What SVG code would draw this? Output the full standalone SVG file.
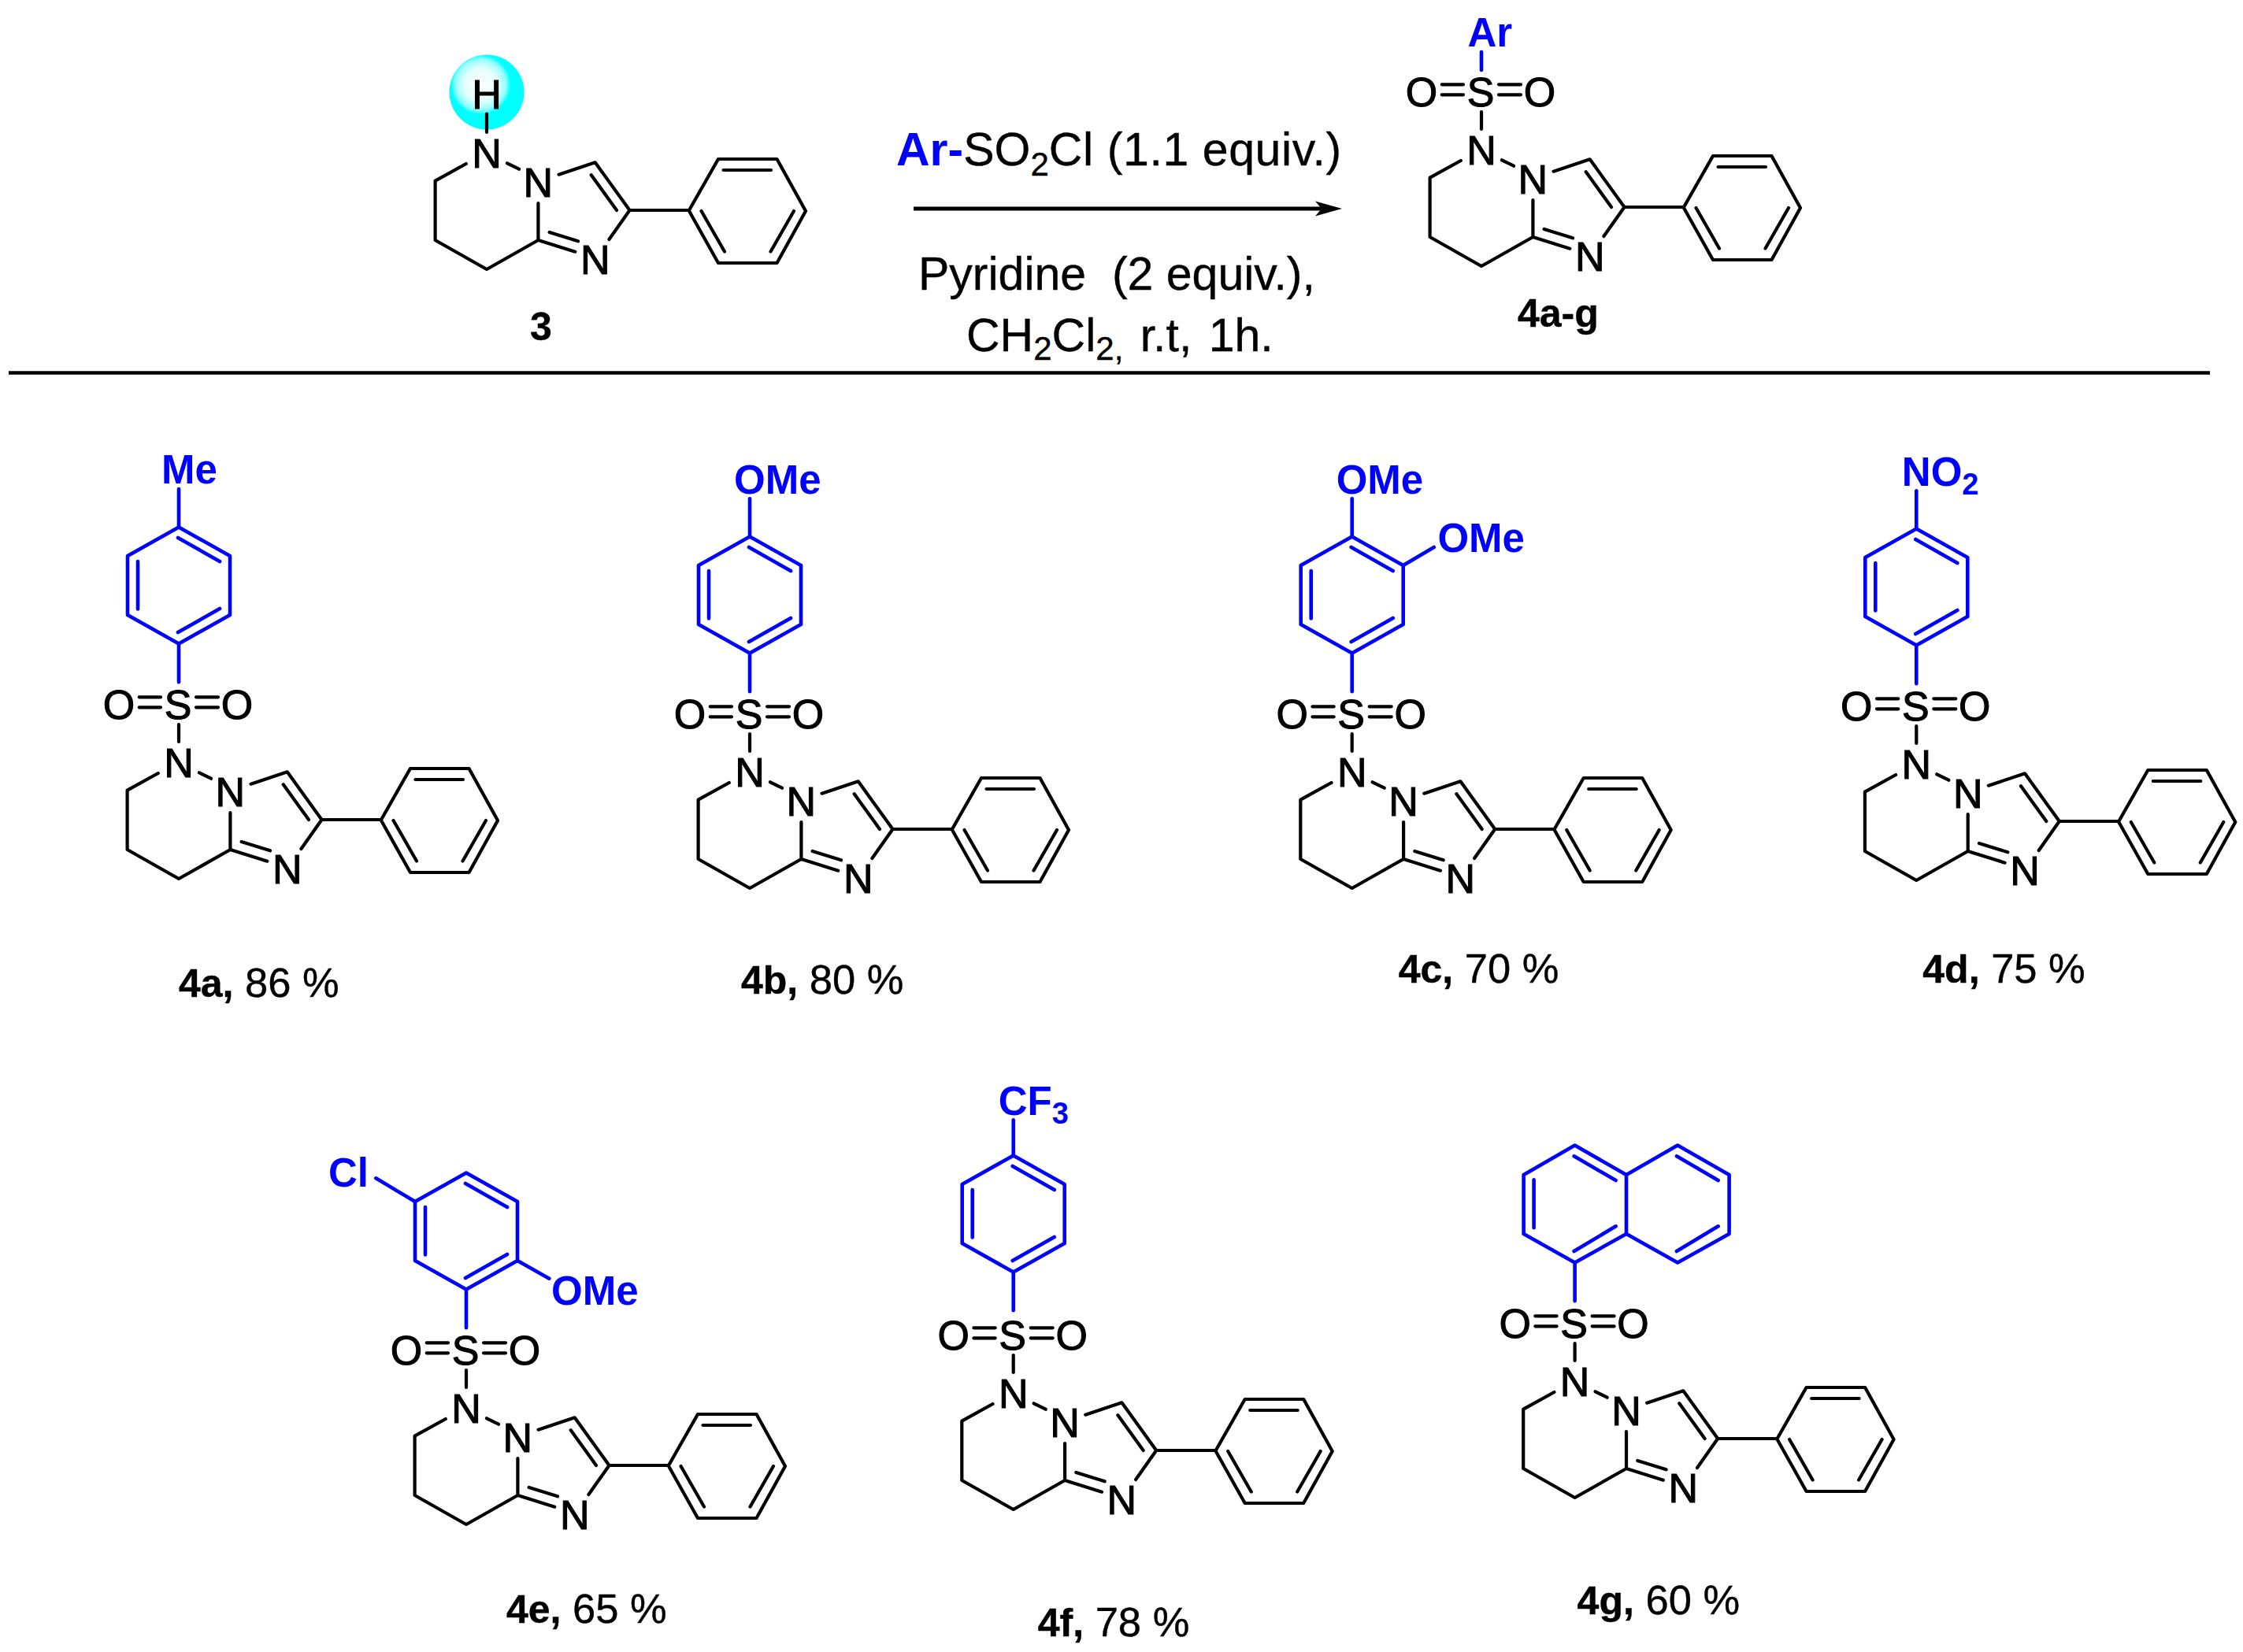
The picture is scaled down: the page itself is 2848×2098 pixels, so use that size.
<svg xmlns="http://www.w3.org/2000/svg" width="2848" height="2098" viewBox="0 0 2848 2098">
<style>
text{font-family:"Liberation Sans",Arial,sans-serif;white-space:pre}
.a{font-size:52px;text-anchor:middle;fill:#000;stroke:#000;stroke-width:1.1}
.b{font-size:51px;font-weight:700;fill:#00f}
.s{font-size:38px}
.l{font-size:52.5px;fill:#000;stroke:#000;stroke-width:.4}
.lb{font-weight:700;font-size:50px}
.r{font-size:59px;fill:#000;stroke:#000;stroke-width:.4}
.k{fill:none;stroke:#000;stroke-width:4.2;stroke-linecap:round;stroke-linejoin:round}
.u{fill:none;stroke:#00f;stroke-width:4.6;stroke-linecap:round;stroke-linejoin:round}
</style>
<defs>
<radialGradient id="ball" cx="0.42" cy="0.4" r="0.5">
<stop offset="0" stop-color="#fff"/><stop offset="0.45" stop-color="#e4ffff"/><stop offset="0.68" stop-color="#8fffff"/><stop offset="0.8" stop-color="#0ff"/><stop offset="1" stop-color="#0ff"/>
</radialGradient>
<marker id="head" markerUnits="userSpaceOnUse" markerWidth="36" markerHeight="24" refX="8" refY="12" orient="auto"><path d="M0,2.5 L34,12 L0,21.5 L8,12 Z" fill="#000"/></marker>
<path id="core" class="k" d="M-26.2,14 L-65.4,35.7 V111 L0,148 L65.4,111 V64 M26,13.3 L41,20.7 M91.5,27.7 L137.7,12.3 L181.5,73 L155.4,110 M132.7,28.3 L165,73 M65.4,111 L112.3,125.7 M79.6,101 L116,112.3 M181.5,73 H257 L294,8 H368.5 L405,74 L368.5,140 H294 L257,74 M300.5,22 H361 M272.5,74 L302,125.5 M390,74 L360.5,125.5"/>
<path id="so2" class="k" d="M0,-48 V-26 M-50.3,-82.7 H-23 M-50.3,-69.7 H-23 M22,-82.7 H50 M22,-69.7 H50"/>
<path id="ring" class="u" d="M0,-101.7 V-150.5 L65,-187 V-262 L0,-298.5 L-65,-262 V-187 L0,-150.5 M-1,-285 L52,-255 M-52,-255 V-194.5 M-1,-165 L52,-195"/>
</defs>
<g id="connectors">
<path d="M1160,265 H1678" fill="none" stroke="#000" stroke-width="5" marker-end="url(#head)"/>
<path d="M11,473.5 H2806" fill="none" stroke="#000" stroke-width="4.5"/>
</g>
<g id="reagents">
<text class="r" x="1138" y="210"><tspan font-weight="700" fill="#00f" stroke="none">Ar-</tspan>SO<tspan font-size="42" dy="12.7">2</tspan><tspan dy="-12.7" letter-spacing="0.6">Cl (1.1 equiv.)</tspan></text>
<text class="r" x="1166" y="367.7">Pyridine  (2 equiv.),</text>
<text class="r" x="1227" y="445.7">CH<tspan font-size="42" dy="11">2</tspan><tspan dy="-11">Cl</tspan><tspan font-size="42" dy="11">2,</tspan><tspan dy="-11" word-spacing="5"> r.t, 1h.</tspan></text>
</g>
<g id="compound-3" transform="translate(618,194)">
<circle cx="0" cy="-77" r="47.5" fill="url(#ball)"/>
<use href="#core"/>
<path class="k" d="M0,-49.3 V-26"/>
<text class="a" x="0" y="-56.5">H</text>
<text class="a" x="0" y="18.5">N</text>
<text class="a" x="65.4" y="55.5">N</text>
<text class="a" x="137.7" y="154">N</text>
<text class="l lb" x="55" y="238">3</text>
</g>
<g id="compound-4a-g" transform="translate(1881,190)">
<use href="#core"/><use href="#so2"/>
<path class="u" d="M0,-124 V-101"/>
<text class="b" x="-17.5" y="-131">Ar</text>
<text class="a" x="-76" y="-55.5">O</text><text class="a" x="-1" y="-55.5">S</text><text class="a" x="74" y="-55.5">O</text>
<text class="a" x="0" y="18.5">N</text><text class="a" x="65.4" y="55.5">N</text><text class="a" x="137.7" y="154">N</text>
<text class="l lb" x="46" y="225">4a-g</text>
</g>
<g id="compound-4a" transform="translate(227,968)">
<use href="#core"/><use href="#so2"/><use href="#ring"/>
<path class="u" d="M0,-298.5 V-347"/>
<text class="b" x="-22" y="-354">Me</text>
<text class="a" x="-76" y="-55.5">O</text><text class="a" x="-1" y="-55.5">S</text><text class="a" x="74" y="-55.5">O</text>
<text class="a" x="0" y="18.5">N</text><text class="a" x="65.4" y="55.5">N</text><text class="a" x="137.7" y="154">N</text>
<text class="l" x="0" y="298"><tspan class="lb">4a,</tspan> 86 %</text>
</g>
<g id="compound-4b" transform="translate(952,980)">
<use href="#core"/><use href="#so2"/><use href="#ring"/>
<path class="u" d="M0,-298.5 V-346.7"/>
<text class="b" x="-20" y="-353">OMe</text>
<text class="a" x="-76" y="-55.5">O</text><text class="a" x="-1" y="-55.5">S</text><text class="a" x="74" y="-55.5">O</text>
<text class="a" x="0" y="18.5">N</text><text class="a" x="65.4" y="55.5">N</text><text class="a" x="137.7" y="154">N</text>
<text class="l" x="-11" y="282"><tspan class="lb">4b,</tspan> 80 %</text>
</g>
<g id="compound-4c" transform="translate(1716.7,980)">
<use href="#core"/><use href="#so2"/><use href="#ring"/>
<path class="u" d="M0,-298.5 V-346.7 M65,-262 L104,-285"/>
<text class="b" x="-20" y="-353">OMe</text>
<text class="b" x="108.7" y="-279">OMe</text>
<text class="a" x="-76" y="-55.5">O</text><text class="a" x="-1" y="-55.5">S</text><text class="a" x="74" y="-55.5">O</text>
<text class="a" x="0" y="18.5">N</text><text class="a" x="65.4" y="55.5">N</text><text class="a" x="137.7" y="154">N</text>
<text class="l" x="59" y="268"><tspan class="lb">4c,</tspan> 70 %</text>
</g>
<g id="compound-4d" transform="translate(2433.3,970)">
<use href="#core"/><use href="#so2"/><use href="#ring"/>
<path class="u" d="M0,-298.5 V-346.7"/>
<text class="b" x="-18.5" y="-353">NO<tspan class="s" dy="11">2</tspan></text>
<text class="a" x="-76" y="-55.5">O</text><text class="a" x="-1" y="-55.5">S</text><text class="a" x="74" y="-55.5">O</text>
<text class="a" x="0" y="18.5">N</text><text class="a" x="65.4" y="55.5">N</text><text class="a" x="137.7" y="154">N</text>
<text class="l" x="8" y="278"><tspan class="lb">4d,</tspan> 75 %</text>
</g>
<g id="compound-4e" transform="translate(592,1788)">
<use href="#core"/><use href="#so2"/><use href="#ring"/>
<path class="u" d="M-65,-262 L-114.7,-291.7 M65,-187 L105.3,-164.3"/>
<text class="b" x="-175" y="-281">Cl</text>
<text class="b" x="108" y="-131">OMe</text>
<text class="a" x="-76" y="-55.5">O</text><text class="a" x="-1" y="-55.5">S</text><text class="a" x="74" y="-55.5">O</text>
<text class="a" x="0" y="18.5">N</text><text class="a" x="65.4" y="55.5">N</text><text class="a" x="137.7" y="154">N</text>
<text class="l" x="51" y="273"><tspan class="lb">4e,</tspan> 65 %</text>
</g>
<g id="compound-4f" transform="translate(1286.7,1769)">
<use href="#core"/><use href="#so2"/><use href="#ring" transform="translate(0,-3)"/>
<path class="u" d="M0,-301.5 V-346.7"/>
<text class="b" x="-19" y="-353">CF<tspan class="s" dy="11">3</tspan></text>
<text class="a" x="-76" y="-55.5">O</text><text class="a" x="-1" y="-55.5">S</text><text class="a" x="74" y="-55.5">O</text>
<text class="a" x="0" y="18.5">N</text><text class="a" x="65.4" y="55.5">N</text><text class="a" x="137.7" y="154">N</text>
<text class="l" x="31" y="309"><tspan class="lb">4f,</tspan> 78 %</text>
</g>
<g id="compound-4g" transform="translate(1999.6,1754)">
<use href="#core"/><use href="#so2"/>
<path class="u" d="M0,-101.7 V-150.5 L65.4,-187 V-262 L0,-299.5 L-65,-262 V-187 L0,-150.5 M65.4,-187 L130.5,-150.5 L196,-187 V-262 L130.5,-299.5 L65.4,-262 M-1,-285.7 L52,-255 M-52,-255.7 V-194.7 M-1,-165 L52,-196.7 M129.3,-285.7 L182,-255 M129.3,-165 L182,-196.7"/>
<text class="a" x="-76" y="-55.5">O</text><text class="a" x="-1" y="-55.5">S</text><text class="a" x="74" y="-55.5">O</text>
<text class="a" x="0" y="18.5">N</text><text class="a" x="65.4" y="55.5">N</text><text class="a" x="137.7" y="154">N</text>
<text class="l" x="3" y="296"><tspan class="lb">4g,</tspan> 60 %</text>
</g>
</svg>
